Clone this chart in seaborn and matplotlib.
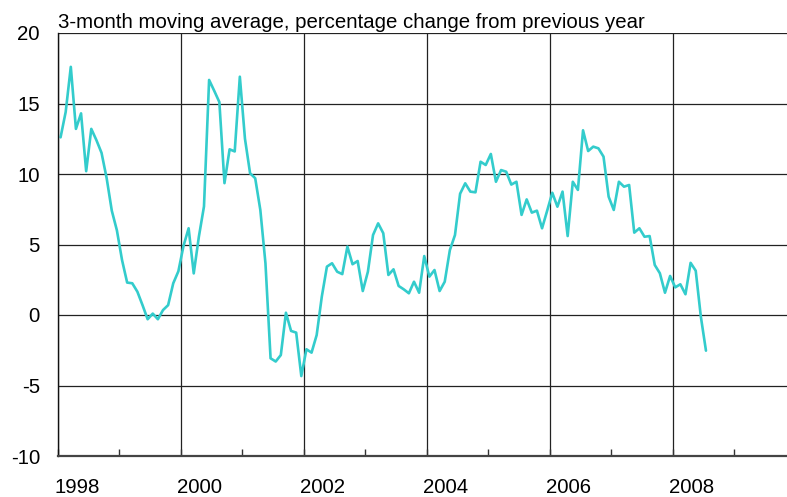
'''3-month moving average line chart'''
import numpy as np
import pandas as pd
import seaborn as sns
import matplotlib.pyplot as plt
from matplotlib import ticker

#region data
first_year = 1998
# monthly values, percentage change from previous year (3-month moving average)
vals_1998 = [12.6, 14.4, 17.6, 13.2, 14.3, 10.2, 13.2, 12.4, 11.5, 9.7, 7.4, 6.0]
vals_1999 = [3.9, 2.3, 2.25, 1.65, 0.7, -0.3, 0.1, -0.3, 0.35, 0.7, 2.25, 3.1]
vals_2000 = [4.9, 6.15, 2.95, 5.55, 7.7, 16.67, 15.9, 15.1, 9.35, 11.75, 11.6, 16.9]
vals_2001 = [12.5, 10.05, 9.7, 7.45, 3.67, -3.07, -3.3, -2.84, 0.16, -1.13, -1.25, -4.33]
vals_2002 = [-2.43, -2.67, -1.42, 1.3, 3.43, 3.67, 3.07, 2.9, 4.85, 3.6, 3.83, 1.7]
vals_2003 = [3.07, 5.67, 6.5, 5.8, 2.84, 3.24, 2.06, 1.82, 1.54, 2.36, 1.58, 4.18]
vals_2004 = [2.72, 3.19, 1.7, 2.36, 4.6, 5.67, 8.6, 9.34, 8.75, 8.7, 10.87, 10.64]
vals_2005 = [11.42, 9.45, 10.28, 10.16, 9.25, 9.45, 7.1, 8.2, 7.26, 7.4, 6.15, 7.4]
vals_2006 = [8.67, 7.68, 8.75, 5.6, 9.45, 8.87, 13.1, 11.63, 11.94, 11.82, 11.23, 8.39]
vals_2007 = [7.45, 9.45, 9.1, 9.22, 5.84, 6.15, 5.55, 5.6, 3.55, 2.96, 1.58, 2.77]
vals_2008 = [1.96, 2.18, 1.47, 3.7, 3.14, -0.12, -2.53]

year_labels = ['1998', '2000', '2002', '2004', '2006', '2008']
y_ticks = [-10, -5, 0, 5, 10, 15, 20]
title = '3-month moving average, percentage change from previous year'
#endregion


def plot():
    '''draw and save the chart'''
    sns.set_style('white')
    plt.rcParams['font.family'] = ['Liberation Sans', 'DejaVu Sans']
    plt.rcParams['text.color'] = 'black'
    plt.rcParams['xtick.color'] = 'black'
    plt.rcParams['ytick.color'] = 'black'
    fsize = 14.7

    values = (vals_1998 + vals_1999 + vals_2000 + vals_2001 + vals_2002 + vals_2003
              + vals_2004 + vals_2005 + vals_2006 + vals_2007 + vals_2008)
    months = np.arange(len(values))
    df = pd.DataFrame({'date': first_year + (months + 0.5) / 12.0, 'value': values})

    W, H = 787, 497
    fig = plt.figure(figsize=(W / 100, H / 100), dpi=100)
    ax = fig.add_axes([58 / W, 41 / H, 729 / W, 423 / H])

    sns.lineplot(data=df, x='date', y='value', color='#33CCCC', linewidth=1.9, ax=ax)

    ax.set_xlim(1998, 2009.86)
    ax.set_ylim(-10, 20)
    ax.set_xlabel('')
    ax.set_ylabel('')

    # even years get gridlines, odd years only a small tick
    ax.xaxis.set_major_locator(ticker.MultipleLocator(2))
    ax.xaxis.set_minor_locator(ticker.MultipleLocator(1))
    ax.xaxis.set_major_formatter(ticker.NullFormatter())
    ax.tick_params(axis='x', which='both', direction='in', length=5, width=1, color='#333333', bottom=True)
    ax.set_yticks(y_ticks)
    ax.set_yticklabels([str(t) for t in y_ticks])
    ax.tick_params(axis='y', length=0, pad=13, labelsize=fsize, labelcolor='black')

    ax.grid(True, which='major', axis='both', color='#222222', linewidth=0.9)
    ax.grid(False, which='minor')

    for side in ['top', 'right']:
        ax.spines[side].set_visible(False)
    ax.spines['left'].set_color('#111111')
    ax.spines['left'].set_linewidth(1.0)
    ax.spines['bottom'].set_color('#444444')
    ax.spines['bottom'].set_linewidth(1.6)

    #year labels sit just to the right of each even year line
    for lbl in year_labels:
        ax.text(int(lbl) + 0.31, -0.0745, lbl, transform=ax.get_xaxis_transform(),
                ha='center', va='center', fontsize=fsize, color='black')

    ax.set_title(title, loc='left', fontsize=fsize, pad=3.4, color='black')

    fig.savefig('out.png', dpi=100)


plot()
